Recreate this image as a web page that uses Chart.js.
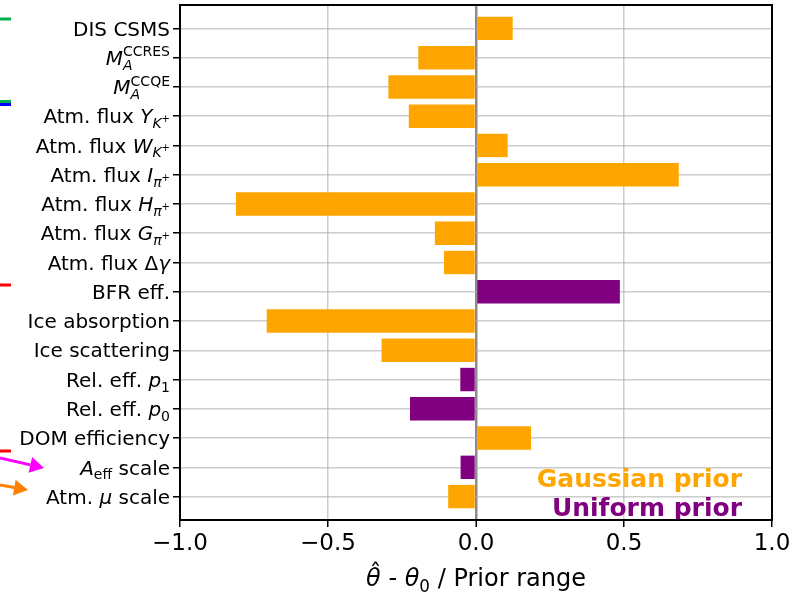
<!DOCTYPE html>
<html>
<head>
<meta charset="utf-8">
<script src="https://cdn.jsdelivr.net/npm/chart.js@4/dist/chart.umd.min.js"></script>
<style>
  html, body { margin: 0; padding: 0; background: #fff; }
  #wrap { width: 810px; height: 593px; position: relative; }
</style>
</head>
<body>
<div id="wrap"><canvas id="c"></canvas></div>
<script>
// Nuisance parameters, top to bottom
const parameters = [
  'DIS CSMS', 'M_A^CCRES', 'M_A^CCQE', 'Atm. flux Y_K+', 'Atm. flux W_K+',
  'Atm. flux I_pi+', 'Atm. flux H_pi+', 'Atm. flux G_pi+', 'Atm. flux Δγ',
  'BFR eff.', 'Ice absorption', 'Ice scattering', 'Rel. eff. p1', 'Rel. eff. p0',
  'DOM efficiency', 'A_eff scale', 'Atm. μ scale'
];

// Fitted pull (theta_hat - theta_0) divided by prior range
const pulls = [
  0.124, -0.195, -0.296, -0.227, 0.107,
  0.685, -0.811, -0.139, -0.108,
  0.486, -0.707, -0.319, -0.053, -0.223,
  0.186, -0.052, -0.094
];

// Prior type of each parameter
const priorTypes = [
  'gauss', 'gauss', 'gauss', 'gauss', 'gauss',
  'gauss', 'gauss', 'gauss', 'gauss',
  'uniform', 'gauss', 'gauss', 'uniform', 'uniform',
  'gauss', 'uniform', 'gauss'
];

const xTickValues = [-1.0, -0.5, 0.0, 0.5, 1.0];
const priorNames = { gauss: 'Gaussian prior', uniform: 'Uniform prior' };
const priorColors = { gauss: '#FFA500', uniform: '#800080' };

// Rich-text tick labels: [text, italic, level, stackOnPrevious]
// level: b = base, sub, sup, ss = superscript of a subscript
const richLabels = [
  [['DIS CSMS']],
  [['M', 1], ['A', 1, 'sub'], ['CCRES', 0, 'sup', 1]],
  [['M', 1], ['A', 1, 'sub'], ['CCQE', 0, 'sup', 1]],
  [['Atm. flux '], ['Y', 1], ['K', 1, 'sub'], ['+', 0, 'ss']],
  [['Atm. flux '], ['W', 1], ['K', 1, 'sub'], ['+', 0, 'ss']],
  [['Atm. flux '], ['I', 1], ['π', 1, 'sub'], ['+', 0, 'ss']],
  [['Atm. flux '], ['H', 1], ['π', 1, 'sub'], ['+', 0, 'ss']],
  [['Atm. flux '], ['G', 1], ['π', 1, 'sub'], ['+', 0, 'ss']],
  [['Atm. flux Δ'], ['γ', 1]],
  [['BFR eff.']],
  [['Ice absorption']],
  [['Ice scattering']],
  [['Rel. eff. '], ['p', 1], ['1', 0, 'sub']],
  [['Rel. eff. '], ['p', 1], ['0', 0, 'sub']],
  [['DOM efficiency']],
  [['A', 1], ['eff', 0, 'sub'], [' scale']],
  [['Atm. '], ['μ', 1], [' scale']]
];

const FONT = '"DejaVu Sans", "Liberation Sans", sans-serif';

function drawRich(ctx, segs, x, y, F, align) {
  const sizes = { b: 1, sub: 0.7, sup: 0.7, ss: 0.5 };
  const shifts = { b: 0, sub: 0.24, sup: -0.42, ss: -0.06 };
  const items = [];
  let cx = 0, prevStart = 0, prevW = 0;
  for (const seg of segs) {
    const [t, it, lvl = 'b', stack] = seg;
    const font = (it ? 'italic ' : '') + (F * sizes[lvl]) + 'px ' + FONT;
    ctx.font = font;
    const w = ctx.measureText(t).width;
    let sx = cx;
    if (stack) {
      sx = prevStart;
      cx = Math.max(prevStart + prevW, sx + w);
    } else {
      cx = sx + w;
    }
    items.push({ t, font, sx, dy: shifts[lvl] * F });
    prevStart = sx; prevW = w;
  }
  const x0 = align === 'right' ? x - cx : align === 'center' ? x - cx / 2 : x;
  for (const o of items) {
    ctx.font = o.font;
    ctx.fillText(o.t, x0 + o.sx, y + o.dy);
  }
  return { left: x0, width: cx };
}

const decorPlugin = {
  id: 'decor',
  afterDraw(chart) {
    const { ctx, chartArea: a, scales } = chart;
    const ys = scales.y;
    ctx.save();
    ctx.fillStyle = '#000';
    ctx.textBaseline = 'alphabetic';
    ctx.textAlign = 'left';
    // parameter names
    const F = 20;
    richLabels.forEach((segs, i) => {
      const py = ys.getPixelForValue(i);
      drawRich(ctx, segs, a.left - 10, py + 0.36 * F, F, 'right');
    });

    // axis title: theta-hat - theta_0 / Prior range
    const TF = 24;
    const cxm = (a.left + a.right) / 2;
    const base = a.bottom + 66;
    const r = drawRich(ctx, [['θ', 1], [' - '], ['θ', 1], ['0', 0, 'sub'], [' / Prior range']], cxm, base, TF, 'center');
    ctx.font = 'italic ' + TF + 'px ' + FONT;
    const tw = ctx.measureText('θ').width;
    ctx.font = TF + 'px ' + FONT;
    ctx.textAlign = 'center';
    ctx.fillText('ˆ', r.left + tw / 2 + 2, base - 5);

    // prior-type key
    ctx.textAlign = 'right';
    ctx.font = 'bold 25px ' + FONT;
    ctx.fillStyle = priorColors.gauss;
    ctx.fillText(priorNames.gauss, a.right - 30, a.bottom - 33);
    ctx.fillStyle = priorColors.uniform;
    ctx.fillText(priorNames.uniform, a.right - 30, a.bottom - 4);

    // frame
    ctx.strokeStyle = '#000';
    ctx.lineWidth = 2;
    ctx.strokeRect(a.left, a.top, a.right - a.left, a.bottom - a.top);

    // connector stubs from the neighbouring panel
    ctx.lineWidth = 3;
    const stub = (col, y) => { ctx.strokeStyle = col; ctx.beginPath(); ctx.moveTo(0, y); ctx.lineTo(11, y); ctx.stroke(); };
    stub('#00b050', 19);
    stub('#00b050', 101.5);
    stub('#0000ff', 104.5);
    stub('#ff0000', 285);
    stub('#ff0000', 451);
    const arrow = (col, x0, y0, x1, y1, hl, hw) => {
      const ang = Math.atan2(y1 - y0, x1 - x0);
      const bx = x1 - hl * Math.cos(ang), by = y1 - hl * Math.sin(ang);
      ctx.strokeStyle = col; ctx.fillStyle = col;
      ctx.beginPath(); ctx.moveTo(x0, y0); ctx.lineTo(bx, by); ctx.stroke();
      ctx.beginPath();
      ctx.moveTo(x1, y1);
      ctx.lineTo(bx + hw * Math.sin(ang), by - hw * Math.cos(ang));
      ctx.lineTo(bx - hw * Math.sin(ang), by + hw * Math.cos(ang));
      ctx.closePath(); ctx.fill();
    };
    arrow('#ff00ff', 0, 458, 44, 468, 14, 8);
    arrow('#ff8000', 0, 485, 28, 490, 14, 8);
    ctx.restore();
  }
};

const ctx = document.getElementById('c').getContext('2d');
new Chart(ctx, {
  type: 'bar',
  data: {
    datasets: [{
      data: pulls.map((v, i) => ({ x: v, y: i })),
      backgroundColor: priorTypes.map(t => priorColors[t]),
      borderWidth: 0,
      categoryPercentage: 1.0,
      barPercentage: 0.8
    }]
  },
  options: {
    indexAxis: 'y',
    responsive: true,
    maintainAspectRatio: false,
    animation: false,
    devicePixelRatio: 1,
    layout: { padding: { top: 5, right: 38, left: 0, bottom: 0 } },
    plugins: { legend: { display: false }, tooltip: { enabled: false } },
    scales: {
      x: {
        type: 'linear',
        min: -1, max: 1,
        z: 1,
        afterBuildTicks: s => { s.ticks = xTickValues.map(v => ({ value: v })); },
        afterFit: s => { s.height = 73; },
        ticks: {
          color: '#000',
          font: { family: FONT, size: 23 },
          padding: 3,
          maxRotation: 0,
          callback: v => Number(v).toFixed(1).replace('-', '\u2212')
        },
        grid: {
          color: c => (c.tick && c.tick.value === 0) ? '#8c8c8c' : 'rgba(170,170,170,0.6)',
          lineWidth: c => (c.tick && c.tick.value === 0) ? 2.5 : 1.5,
          tickColor: '#000',
          tickLength: 7,
          tickWidth: 1.5
        },
        border: { display: false }
      },
      y: {
        type: 'linear',
        reverse: true,
        offset: false,
        min: -0.8, max: 16.8,
        z: 1,
        afterBuildTicks: s => { s.ticks = parameters.map((_, i) => ({ value: i })); },
        afterFit: s => { s.width = 180; },
        ticks: { display: false },
        grid: {
          offset: false,
          color: 'rgba(170,170,170,0.6)',
          lineWidth: 1.5,
          tickColor: '#000',
          tickLength: 7,
          tickWidth: 1.5
        },
        border: { display: false }
      }
    }
  },
  plugins: [decorPlugin]
});
</script>
</body>
</html>
